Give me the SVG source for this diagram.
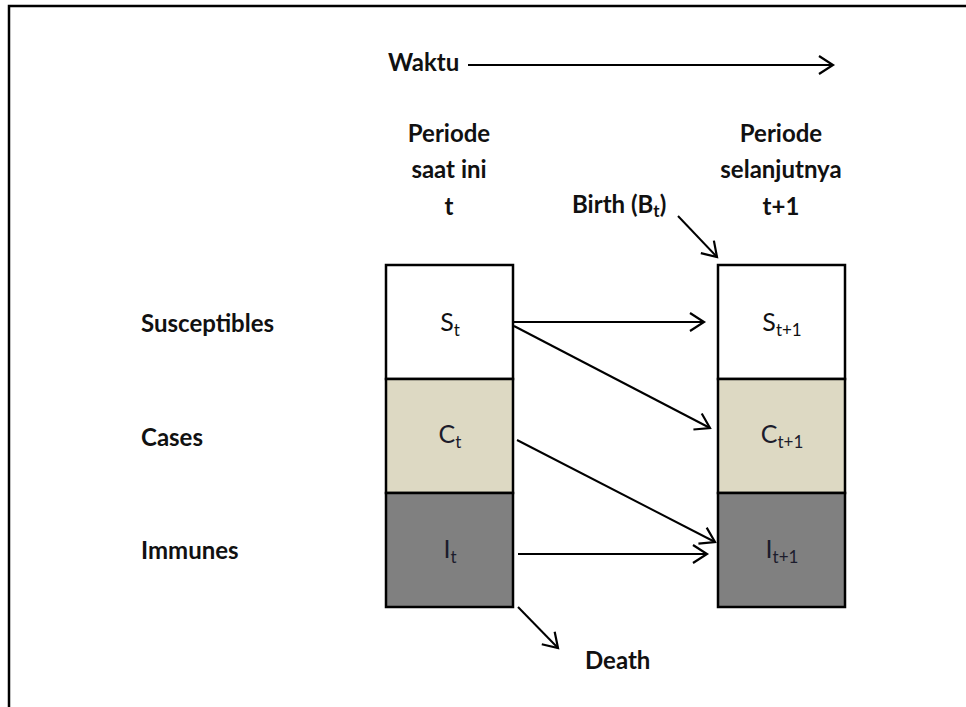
<svg xmlns="http://www.w3.org/2000/svg" width="966" height="707" viewBox="0 0 966 707">
<defs>
<marker id="ah" markerUnits="userSpaceOnUse" markerWidth="20" markerHeight="22" refX="16" refY="10" orient="auto">
<path d="M2,1 L16,10 L2,19" fill="none" stroke="#000" stroke-width="2.2"/>
</marker>
<style>
.lbl{font-family:Lato,"Open Sans","Liberation Sans",sans-serif;font-weight:bold;font-size:24px;fill:#111;}
.cell{font-family:Lato,"Open Sans","Liberation Sans",sans-serif;font-size:25px;fill:#111;text-anchor:middle;}
.cell2{fill:#1c1c2c;}
.sub{font-size:17px;}
.box{stroke:#000;stroke-width:2.5;}
.conn{stroke:#000;stroke-width:2;fill:none;marker-end:url(#ah);}
</style>
</defs>
<rect width="966" height="707" fill="#fff"/>
<path d="M9,707 V6 H966" fill="none" stroke="#000" stroke-width="2.5"/>

<g id="waktu">
<text class="lbl" x="388" y="71">Waktu</text>
</g>

<g id="header-left">
<text class="lbl" x="449" y="142" text-anchor="middle">Periode</text>
<text class="lbl" x="449" y="178" text-anchor="middle">saat ini</text>
<text class="lbl" x="449" y="215" text-anchor="middle">t</text>
</g>

<g id="header-right">
<text class="lbl" x="781" y="142" text-anchor="middle">Periode</text>
<text class="lbl" x="781" y="178" text-anchor="middle">selanjutnya</text>
<text class="lbl" x="781" y="215" text-anchor="middle">t+1</text>
</g>

<g id="birth">
<text class="lbl" x="572" y="213">Birth (B<tspan class="sub" dy="4">t</tspan><tspan dy="-4">)</tspan></text>
</g>

<g id="row-labels">
<text class="lbl" x="141" y="332">Susceptibles</text>
<text class="lbl" x="141" y="446">Cases</text>
<text class="lbl" x="141" y="559">Immunes</text>
</g>

<g id="box-t">
<rect class="box" x="386" y="265" width="127" height="114" fill="#fff"/>
<rect class="box" x="386" y="379" width="127" height="114" fill="#ddd9c3"/>
<rect class="box" x="386" y="493" width="127" height="114" fill="#808080"/>
<text class="cell" x="450" y="331">S<tspan class="sub" dy="5">t</tspan></text>
<text class="cell cell2" x="450" y="443">C<tspan class="sub" dy="5">t</tspan></text>
<text class="cell cell2" x="450" y="558">I<tspan class="sub" dy="5">t</tspan></text>
</g>

<g id="box-t1">
<rect class="box" x="718" y="265" width="127" height="114" fill="#fff"/>
<rect class="box" x="718" y="379" width="127" height="114" fill="#ddd9c3"/>
<rect class="box" x="718" y="493" width="127" height="114" fill="#808080"/>
<text class="cell" x="782" y="331">S<tspan class="sub" dy="5">t+1</tspan></text>
<text class="cell cell2" x="782" y="443">C<tspan class="sub" dy="5">t+1</tspan></text>
<text class="cell cell2" x="782" y="558">I<tspan class="sub" dy="5">t+1</tspan></text>
</g>

<g id="death">
<text class="lbl" x="585" y="669">Death</text>
</g>

<g id="connectors">
<line class="conn" x1="468" y1="65" x2="833" y2="65" stroke-width="1.6"/>
<line class="conn" x1="514" y1="322" x2="704" y2="322"/>
<line class="conn" x1="514" y1="326" x2="710" y2="428"/>
<line class="conn" x1="517" y1="440" x2="715" y2="542"/>
<line class="conn" x1="518" y1="554" x2="707" y2="554"/>
<line class="conn" x1="518" y1="607" x2="558" y2="648"/>
<line class="conn" x1="678" y1="216" x2="717" y2="257"/>
</g>
</svg>
